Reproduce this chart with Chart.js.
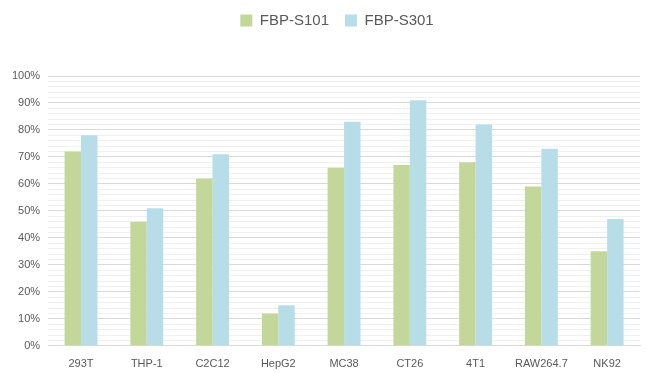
<!DOCTYPE html>
<html>
<head>
<meta charset="utf-8">
<script src="https://cdn.jsdelivr.net/npm/chart.js@4"></script>
<style>
  html, body { margin: 0; padding: 0; background: #fff; }
  #wrap { width: 647px; height: 373px; }
</style>
</head>
<body>
<div id="wrap"><canvas id="chart" width="647" height="373"></canvas></div>
<script>
const cellLines = ["293T", "THP-1", "C2C12", "HepG2", "MC38", "CT26", "4T1", "RAW264.7", "NK92"];
const s101Values = [72, 46, 62, 12, 66, 67, 68, 59, 35];
const s301Values = [78, 51, 71, 15, 83, 91, 82, 73, 47];
const yTicks = [0, 10, 20, 30, 40, 50, 60, 70, 80, 90, 100];

const textColor = "#595959";
const font = "'Liberation Sans', Arial, sans-serif";

new Chart(document.getElementById("chart"), {
    type: "bar",
    data: {
        labels: cellLines,
        datasets: [
            { label: "FBP-S101", data: s101Values, backgroundColor: "#c4d79b" },
            { label: "FBP-S301", data: s301Values, backgroundColor: "#b7dde8" }
        ]
    },
    options: {
        responsive: false,
        animation: false,
        layout: { padding: { left: 4, right: 7, top: -3, bottom: -2 } },
        datasets: { bar: { categoryPercentage: 0.5, barPercentage: 1.0 } },
        plugins: {
            legend: {
                position: "top",
                labels: {
                    color: textColor,
                    font: { family: font, size: 15 },
                    boxWidth: 12, boxHeight: 12,
                    padding: 16
                },
                padding: 0
            },
            tooltip: { enabled: false }
        },
        scales: {
            x: {
                grid: { display: false },
                border: { color: "#d9d9d9" },
                ticks: { color: textColor, font: { family: font, size: 11 }, padding: 4 }
            },
            y: {
                min: 0, max: 100,
                afterBuildTicks: axis => {
                    // minor lines every 2%, labels only on the 10% steps
                    const ticks = [];
                    for (let v = 0; v <= 100; v += 2) ticks.push({ value: v });
                    axis.ticks = ticks;
                },
                grid: {
                    color: ctx => yTicks.includes(ctx.tick.value) ? "#d9d9d9" : "#f0f0f0",
                    drawTicks: false
                },
                border: { display: false },
                ticks: {
                    color: textColor,
                    font: { family: font, size: 11 },
                    padding: 8,
                    autoSkip: false,
                    callback: v => yTicks.includes(v) ? v + "%" : ""
                }
            }
        }
    },
    plugins: [{
        id: "legendGap",
        beforeInit(chart) {
            const fit = chart.legend.fit;
            chart.legend.fit = function () {
                fit.bind(chart.legend)();
                this.height += 38;
            };
        },
        afterLayout(chart) {
            // legend sits centred over the plot area, not the canvas
            chart.legend.left += 15;
            chart.legend.right += 15;
        }
    }]
});
</script>
</body>
</html>
